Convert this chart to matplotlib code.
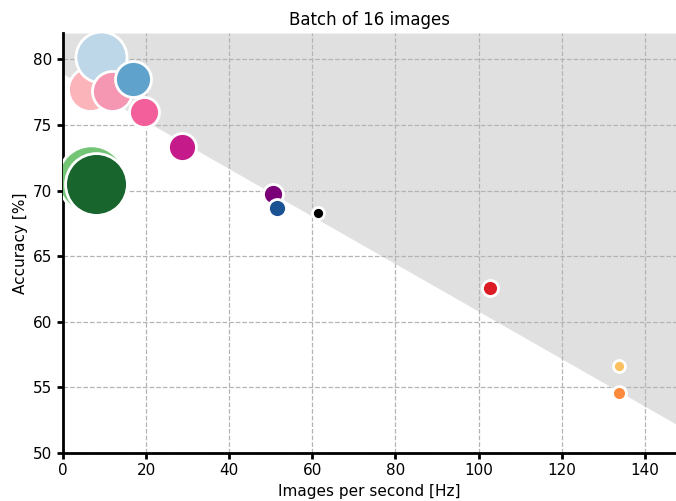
import matplotlib.pyplot as plt
import numpy as np

# throughput (images/s), top-1 accuracy (%), bubble area, colour
ips = [6.6, 9.2, 11.9, 19.6, 16.9, 28.7, 6.85, 7.95, 50.6, 51.5, 61.4, 102.8, 133.8, 133.8]
acc = [77.7, 80.2, 77.6, 76.0, 78.5, 73.3, 70.85, 70.5, 69.7, 68.7, 68.3, 62.6, 56.6, 54.6]
area = [1000, 1350, 830, 465, 670, 405, 2350, 1980, 207, 168, 75, 132, 75, 100]
colors = ['#fbb4b9', '#bdd7e8', '#f596b3', '#f35f9a', '#5fa3cd', '#c51b8a',
          '#74c476', '#18652e', '#7a0177', '#1a5294', '#000000', '#dc1c24',
          '#fdc05f', '#fd8a3d']

# pareto-ish boundary used for the shaded region
front_x = [0, 147.5]
front_y = [78.9, 52.2]

fig = plt.figure(figsize=(6.76, 5.01), dpi=100)
ax = fig.add_axes([0.093, 0.096, 0.907, 0.838])

ax.fill_between(front_x, front_y, [82, 82], color='#e0e0e0', lw=0, zorder=0)
ax.grid(True, ls='--', color='#b4b4b4', lw=0.9, zorder=1)

for x, y, s, c in zip(ips, acc, area, colors):
    ax.scatter(x, y, s=s, c=c, edgecolors='white', linewidths=2, zorder=3)

ax.set_xlim(0, 147.5)
ax.set_ylim(50, 82)
ax.set_xticks(range(0, 141, 20))
ax.set_yticks(range(50, 81, 5))
for side in ['top', 'right']:
    ax.spines[side].set_visible(False)
for side in ['left', 'bottom']:
    ax.spines[side].set_linewidth(2)
ax.tick_params(width=2, length=4, labelsize=11)

ax.set_title('Batch of 16 images', fontsize=12)
ax.set_xlabel('Images per second [Hz]', fontsize=11)
ax.set_ylabel('Accuracy [%]', fontsize=11)

fig.savefig('out.png', dpi=100)
